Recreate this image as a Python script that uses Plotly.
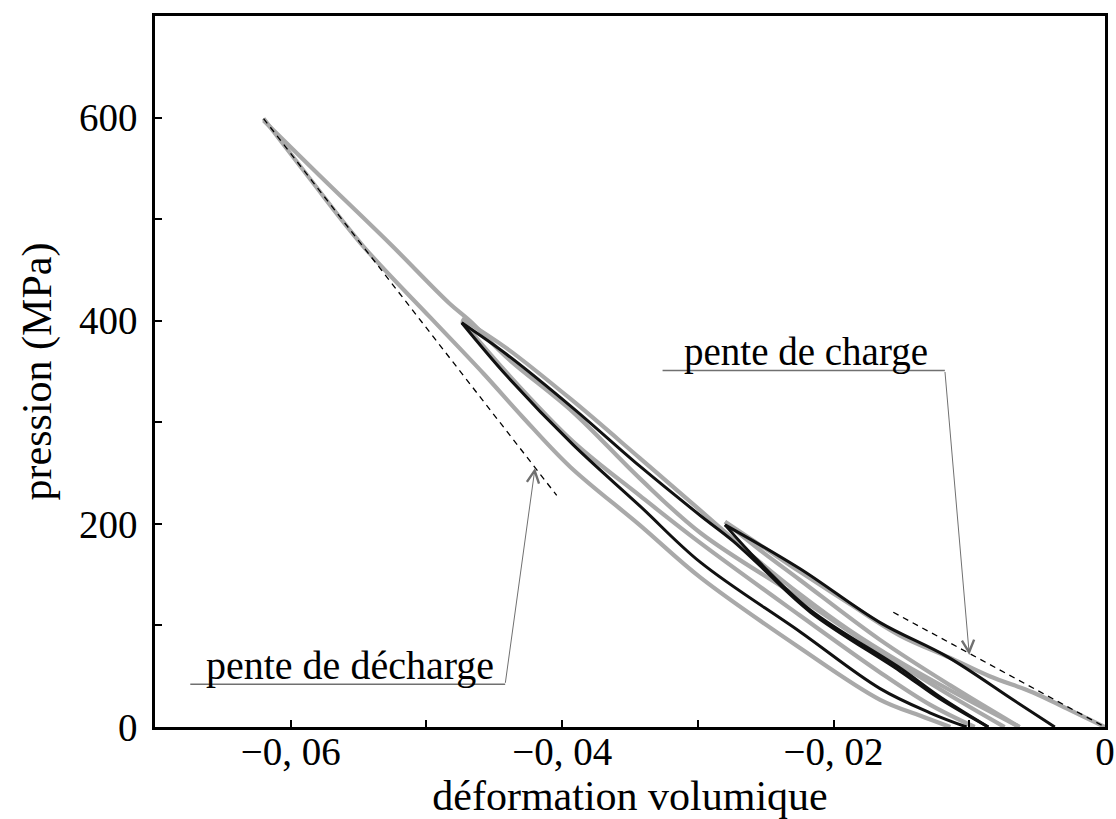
import plotly.graph_objects as go

# ---------------- data (volumetric strain, pressure in MPa) ----------------
# grey specimen
gris_charge_200_x = [0.0, -0.0028, -0.0053, -0.0085, -0.0114, -0.0151, -0.0188, -0.0225, -0.0254, -0.0280]
gris_charge_200_y = [0, 18, 34, 50, 68, 90, 121, 153, 179, 202]

gris_decharge_200_x = [-0.0280, -0.0254, -0.0225, -0.0166, -0.0114, -0.0063]
gris_decharge_200_y = [202, 174, 145, 86, 41, 0]

gris_charge_400_x = [-0.0063, -0.0107, -0.0151, -0.0188, -0.0225, -0.0254, -0.0269, -0.0298, -0.0343, -0.0392, -0.0441, -0.0474]
gris_charge_400_y = [0, 31, 64, 95, 131, 162, 179, 213, 265, 321, 373, 402]

gris_decharge_400_x = [-0.0474, -0.0441, -0.0392, -0.0343, -0.0298, -0.0225, -0.0166, -0.0129, -0.0096]
gris_decharge_400_y = [400, 349, 281, 228, 181, 110, 54, 22, 0]

gris_charge_600_x = [-0.0074, -0.0114, -0.0166, -0.0225, -0.0298, -0.0343, -0.0392, -0.0441, -0.0468, -0.0483, -0.0527, -0.0578, -0.0620]
gris_charge_600_y = [0, 31, 74, 127, 191, 245, 310, 364, 400, 417, 476, 542, 597]

gris_decharge_600_x = [-0.0620, -0.0586, -0.0547, -0.0497, -0.0458, -0.0429, -0.0394, -0.0343, -0.0298, -0.0225, -0.0166, -0.0136, -0.0114]
gris_decharge_600_y = [599, 540, 474, 403, 348, 305, 256, 199, 147, 78, 27, 11, 0]

# black specimen
noir_charge_200_x = [-0.0037, -0.0068, -0.0116, -0.0166, -0.0225, -0.0280]
noir_charge_200_y = [0, 27, 69, 103, 156, 199]

noir_decharge_200_x = [-0.0280, -0.0256, -0.0217, -0.0151, -0.0122, -0.0086]
noir_decharge_200_y = [199, 164, 115, 58, 30, 0]

noir_charge_400_x = [-0.0086, -0.0122, -0.0151, -0.0217, -0.0256, -0.0274, -0.0298, -0.0343, -0.0392, -0.0441, -0.0474]
noir_charge_400_y = [0, 28, 55, 113, 161, 183, 208, 257, 314, 367, 398]

noir_decharge_400_x = [-0.0474, -0.0441, -0.0392, -0.0343, -0.0298, -0.0225, -0.0166, -0.0129, -0.0102]
noir_decharge_400_y = [398, 346, 278, 218, 162, 94, 38, 14, 0]

# slope lines
pente_decharge_x = [-0.0620, -0.0404]
pente_decharge_y = [599, 228]
pente_charge_x = [-0.0156, 0.0]
pente_charge_y = [113, 0]

# annotation geometry (data units)
label_charge = "pente de charge"
charge_souligne_x = [-0.0326, -0.0118]
charge_souligne_y = [351, 351]
charge_pointe = (-0.0100, 71)

label_decharge = "pente de décharge"
decharge_souligne_x = [-0.0674, -0.0442]
decharge_souligne_y = [42, 42]
decharge_pointe = (-0.0420, 255)

# axes
x_ticks = [-0.07, -0.06, -0.05, -0.04, -0.03, -0.02, -0.01, 0.0]
x_tick_text = ["", "\u22120, 06", "", "\u22120, 04", "", "\u22120, 02", "", "0"]
y_ticks = [0, 100, 200, 300, 400, 500, 600]
y_tick_text = ["0", "", "200", "", "400", "", "600"]
x_title = "déformation volumique"
y_title = "pression (MPa)"

FONT = "Liberation Serif"
GRIS = "#a9a9a9"
NOIR = "#111111"
FLECHE = "#707070"

fig = go.Figure()

gris = [
    (gris_charge_200_x, gris_charge_200_y),
    (gris_decharge_200_x, gris_decharge_200_y),
    (gris_charge_400_x, gris_charge_400_y),
    (gris_decharge_400_x, gris_decharge_400_y),
    (gris_charge_600_x, gris_charge_600_y),
    (gris_decharge_600_x, gris_decharge_600_y),
]
noir = [
    (noir_charge_200_x, noir_charge_200_y),
    (noir_decharge_200_x, noir_decharge_200_y),
    (noir_charge_400_x, noir_charge_400_y),
    (noir_decharge_400_x, noir_decharge_400_y),
]
for xs, ys in gris:
    fig.add_trace(go.Scatter(x=xs, y=ys, mode="lines", hoverinfo="skip", showlegend=False,
                             line=dict(color=GRIS, width=4.2, shape="spline", smoothing=1.0)))
for xs, ys in noir:
    fig.add_trace(go.Scatter(x=xs, y=ys, mode="lines", hoverinfo="skip", showlegend=False,
                             line=dict(color=NOIR, width=3, shape="spline", smoothing=1.0)))

for xs, ys in [(pente_decharge_x, pente_decharge_y), (pente_charge_x, pente_charge_y)]:
    fig.add_trace(go.Scatter(x=xs, y=ys, mode="lines", hoverinfo="skip", showlegend=False,
                             line=dict(color="#000000", width=1.3, dash="6px,5px")))

for xs, ys in [(charge_souligne_x, charge_souligne_y), (decharge_souligne_x, decharge_souligne_y)]:
    fig.add_trace(go.Scatter(x=xs, y=ys, mode="lines", hoverinfo="skip", showlegend=False,
                             line=dict(color=FLECHE, width=1.5)))

annotations = [
    dict(x=charge_pointe[0], y=charge_pointe[1], ax=charge_souligne_x[1], ay=charge_souligne_y[1],
         xref="x", yref="y", axref="x", ayref="y", text="", showarrow=True,
         arrowhead=5, arrowsize=2.4, arrowwidth=1, arrowcolor=FLECHE, standoff=0, startstandoff=0),
    dict(x=decharge_pointe[0], y=decharge_pointe[1], ax=decharge_souligne_x[1], ay=decharge_souligne_y[1],
         xref="x", yref="y", axref="x", ayref="y", text="", showarrow=True,
         arrowhead=5, arrowsize=2.4, arrowwidth=1, arrowcolor=FLECHE, standoff=0, startstandoff=0),
    dict(x=sum(charge_souligne_x) / 2 + 0.0002, y=charge_souligne_y[0], xref="x", yref="y",
         text=label_charge, showarrow=False, xanchor="center", yanchor="bottom", yshift=-6,
         font=dict(family=FONT, size=39, color="#000000")),
    dict(x=sum(decharge_souligne_x) / 2 + 0.0002, y=decharge_souligne_y[0], xref="x", yref="y",
         text=label_decharge, showarrow=False, xanchor="center", yanchor="bottom", yshift=-6,
         font=dict(family=FONT, size=40, color="#000000")),
]

axis_common = dict(showgrid=False, zeroline=False, showline=True, linecolor="#000000", linewidth=2.5,
                   mirror=True, ticks="inside", ticklen=7, tickwidth=2, tickcolor="#000000",
                   tickfont=dict(family=FONT, size=39, color="#000000"), automargin=False)

fig.update_layout(
    width=1116, height=819,
    margin=dict(l=155, r=11, t=16, b=92),
    paper_bgcolor="white", plot_bgcolor="white",
    annotations=annotations,
    xaxis=dict(range=[-0.07, 0.0], tickmode="array", tickvals=x_ticks, ticktext=x_tick_text,
               title=dict(text=x_title, font=dict(family=FONT, size=42, color="#000000"), standoff=0),
               ticklabelstandoff=-12, **axis_common),
    yaxis=dict(range=[0, 700], tickmode="array", tickvals=y_ticks, ticktext=y_tick_text,
               title=dict(text=y_title, font=dict(family=FONT, size=42, color="#000000"), standoff=15),
               ticklabelstandoff=7, **axis_common),
)

fig.write_html("out.html", config={"displayModeBar": False},
               post_script="document.body.style.margin='0';")
